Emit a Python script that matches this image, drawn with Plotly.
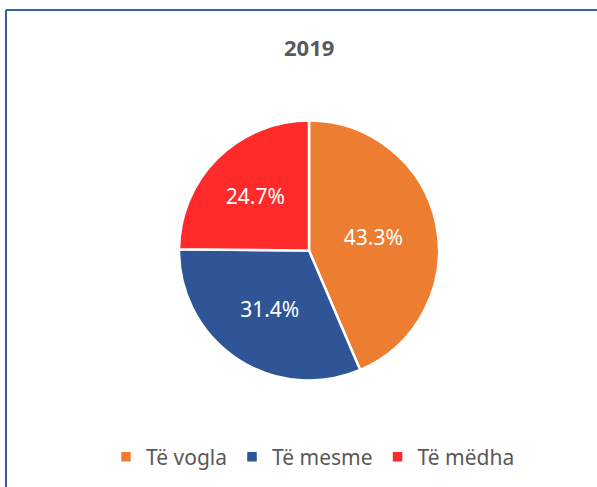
import plotly.graph_objects as go

labels = ["Të vogla", "Të mesme", "Të mëdha"]
values = [43.3, 31.4, 24.7]
colors = ["#ED7D31", "#2F5597", "#FF2A2A"]
title_text = "2019"

W, H = 597, 487
FONT = "Noto Sans, Lato, sans-serif"

fig = go.Figure()
fig.add_trace(go.Pie(
    labels=labels,
    values=values,
    sort=False,
    direction="clockwise",
    rotation=0,
    marker=dict(colors=colors, line=dict(color="white", width=2.5)),
    texttemplate="%{value:.1f}%",
    textposition="inside",
    insidetextorientation="horizontal",
    textfont=dict(color="white", size=21, family=FONT),
    domain=dict(x=[179 / W, 439 / W], y=[(H - 381) / H, (H - 120) / H]),
    hoverinfo="label+percent",
))

fig.add_annotation(
    text="<b>" + title_text + "</b>",
    x=309 / W, y=1 - 47 / H, xref="paper", yref="paper",
    xanchor="center", yanchor="middle", showarrow=False,
    font=dict(size=22, color="#595959", family=FONT),
)

# chart border (left and top edges visible)
fig.add_shape(type="line", xref="paper", yref="paper",
              x0=6 / W, x1=6 / W, y0=0, y1=1 - 10 / H,
              line=dict(color="#3A5DA8", width=2))
fig.add_shape(type="line", xref="paper", yref="paper",
              x0=6 / W, x1=1, y0=1 - 10 / H, y1=1 - 10 / H,
              line=dict(color="#3A5DA8", width=2))

fig.update_layout(
    width=W, height=H,
    margin=dict(l=0, r=0, t=0, b=0),
    paper_bgcolor="white",
    plot_bgcolor="white",
    showlegend=True,
    legend=dict(
        orientation="h",
        x=313 / W, xanchor="center",
        y=1 - 457 / H, yanchor="middle",
        font=dict(size=21, color="#595959", family=FONT),
        itemwidth=30,
        tracegroupgap=0,
    ),
)

fig.write_html(
    "out.html",
    config={"displayModeBar": False},
    post_script="document.body.style.margin='0';document.body.style.padding='0';",
)
